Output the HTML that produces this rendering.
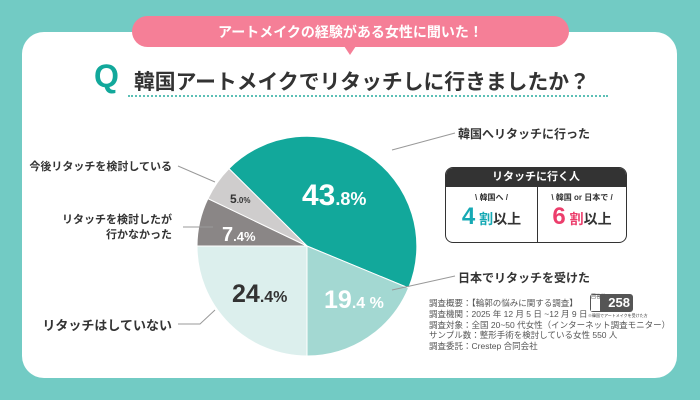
<!DOCTYPE html>
<html><head><meta charset="utf-8"><style>
body{margin:0;width:700px;height:400px;overflow:hidden;background:#72cbc4;font-family:"Liberation Sans","Noto Sans CJK JP",sans-serif;}
.a{position:absolute;white-space:nowrap}
</style></head><body>
<div class="a" style="left:22px;top:32px;width:655px;height:346px;background:#fff;border-radius:22px"></div>
<div class="a" style="left:132px;top:16px;width:437px;height:31px;background:#f57f97;border-radius:16px"></div>
<div class="a" style="left:344px;top:46px;width:0;height:0;border-left:6px solid transparent;border-right:6px solid transparent;border-top:9px solid #f57f97"></div>
<div class="a" style="left:132px;top:22px;width:437px;text-align:center;color:#fff;font-weight:bold;font-size:14px">アートメイクの経験がある女性に聞いた！</div>
<div class="a" style="left:94px;top:58px;color:#12a89b;font-weight:bold;font-size:32px">Q</div>
<div class="a" style="left:134px;top:65px;color:#333;font-weight:bold;font-size:20.8px">韓国アートメイクでリタッチしに行きましたか？</div>
<div class="a" style="left:128px;top:95px;width:480px;border-top:2px dotted #5cc0b6"></div>
<svg class="a" style="left:0;top:0" width="700" height="400">
<g stroke="#fff" stroke-width="1">
<path d="M307,246 L228.9,168.6 A110,110 0 0 1 408.6,288.0 Z" fill="#12a89b"/>
<path d="M307,246 L408.6,288.0 A110,110 0 0 1 307,356 Z" fill="#a3d8d2"/>
<path d="M307,246 L307,356 A110,110 0 0 1 197,246 Z" fill="#dcefed"/>
<path d="M307,246 L197,246 A110,110 0 0 1 207.9,198.6 Z" fill="#8a8686"/>
<path d="M307,246 L207.9,198.6 A110,110 0 0 1 228.9,168.6 Z" fill="#cfcdcd"/>
</g>
<g stroke="#999" stroke-width="1" fill="none">
<polyline points="178,166 215,182"/>
<polyline points="183,227 213,227"/>
<polyline points="178,324 200,324 215,310"/>
<polyline points="392,150 455,133"/>
<polyline points="392,290 455,276"/>
</g>
<text x="302" y="205" fill="#fff" font-weight="bold" font-size="30" font-family="Liberation Sans,sans-serif">43<tspan font-size="18">.8%</tspan></text>
<text x="324" y="308" fill="#fff" font-weight="bold" font-size="25" font-family="Liberation Sans,sans-serif">19<tspan font-size="16">.4 %</tspan></text>
<text x="232" y="302" fill="#333" font-weight="bold" font-size="25" font-family="Liberation Sans,sans-serif">24<tspan font-size="16">.4%</tspan></text>
<text x="222" y="241" fill="#fff" font-weight="bold" font-size="20" font-family="Liberation Sans,sans-serif">7<tspan font-size="13">.4%</tspan></text>
<text x="230" y="203" fill="#333" font-weight="bold" font-size="12" font-family="Liberation Sans,sans-serif">5<tspan font-size="8">.0%</tspan></text>
</svg>
<div class="a" style="right:528px;top:158px;font-size:11px;font-weight:bold;color:#333">今後リタッチを検討している</div>
<div class="a" style="right:528px;top:213px;font-size:11px;font-weight:bold;color:#333;text-align:right;line-height:15px">リタッチを検討したが<br>行かなかった</div>
<div class="a" style="right:528px;top:315px;font-size:13px;font-weight:bold;color:#333">リタッチはしていない</div>
<div class="a" style="left:458px;top:125px;font-size:12px;font-weight:bold;color:#333">韓国へリタッチに行った</div>
<div class="a" style="left:458px;top:269px;font-size:12px;font-weight:bold;color:#333">日本でリタッチを受けた</div>
<div class="a" style="left:445px;top:167px;width:180px;height:74px;border:1px solid #333;border-radius:8px;overflow:hidden;background:#fff">
<div style="height:19px;background:#333;color:#fff;font-size:11px;font-weight:bold;text-align:center;line-height:19px">リタッチに行く人</div>
<div style="position:absolute;left:91px;top:19px;height:55px;border-left:1px solid #333"></div>
<div style="position:absolute;left:0;top:24px;width:91px;text-align:center;font-size:8px;font-weight:bold;color:#333">\ 韓国へ /</div>
<div style="position:absolute;left:0;top:35px;width:91px;text-align:center;font-weight:bold;color:#333;font-size:14px"><span style="color:#16a9b4;font-size:24px">4</span> <span style="color:#16a9b4">割</span>以上</div>
<div style="position:absolute;left:92px;top:24px;width:88px;text-align:center;font-size:8px;font-weight:bold;color:#333">\ 韓国 or 日本で /</div>
<div style="position:absolute;left:92px;top:35px;width:88px;text-align:center;font-weight:bold;color:#333;font-size:14px"><span style="color:#ec3e6c;font-size:24px">6</span> <span style="color:#ec3e6c">割</span>以上</div>
</div>
<div class="a" style="left:429px;top:298px;font-size:8.5px;color:#555;line-height:10.8px">調査概要：【輪郭の悩みに関する調査】<br>調査機関：2025 年 12 月 5 日 ~12 月 9 日<br>調査対象：全国 20~50 代女性（インターネット調査モニター）<br>サンプル数：整形手術を検討している女性 550 人<br>調査委託：Crestep 合同会社</div>
<div class="a" style="left:590px;top:294px;width:43px;height:18px;background:#555;border-radius:3px;color:#fff;font-weight:bold;font-size:13px;line-height:18px;text-align:right;padding-right:3px;box-sizing:border-box">258</div>
<div class="a" style="left:591px;top:295px;width:9px;height:16px;background:#fff;font-size:5px;color:#555;line-height:5px;text-align:center">回答数</div>
<div class="a" style="left:588px;top:313px;font-size:4px;color:#333">※韓国でアートメイクを受けた方</div>
</body></html>
